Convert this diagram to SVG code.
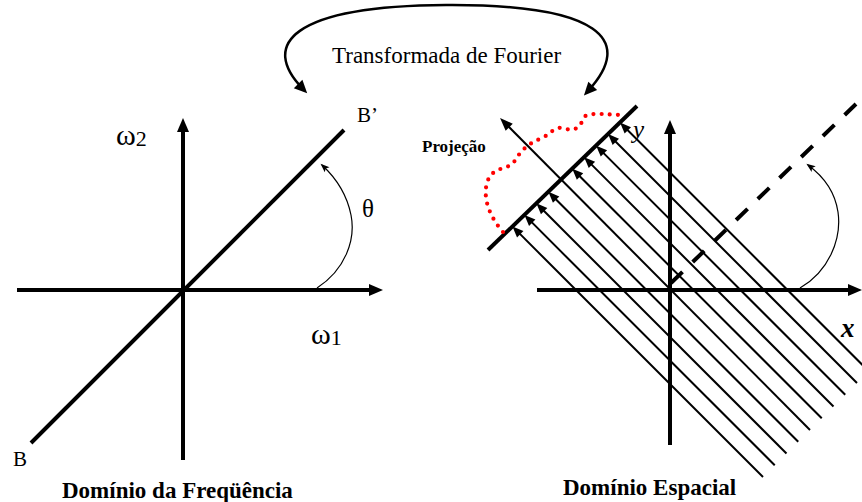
<svg xmlns="http://www.w3.org/2000/svg" width="862" height="502" viewBox="0 0 862 502">
<style>
.ax{stroke:#000;stroke-width:4;fill:none}
.th{stroke:#000;stroke-width:2;fill:none}
.fn{stroke:#000;stroke-width:1.2;fill:none}
.t{font-family:"Liberation Serif","Times New Roman",serif;fill:#000}
.b{font-weight:bold}
.i{font-style:italic}
</style>
<defs>
<marker id="axh" viewBox="-16 -7 18 14" refX="-10" refY="0" markerWidth="18" markerHeight="14" markerUnits="userSpaceOnUse" orient="auto"><path d="M0,0 L-14,-6 L-14,6 z" fill="#000"/></marker>
<marker id="hh" viewBox="-13 -6 14 12" refX="-7" refY="0" markerWidth="14" markerHeight="12" markerUnits="userSpaceOnUse" orient="auto"><path d="M0,0 L-11,-4.5 L-11,4.5 z" fill="#000"/></marker>
<marker id="yh" viewBox="-14 -6 15 12" refX="-9" refY="0" markerWidth="15" markerHeight="12" markerUnits="userSpaceOnUse" orient="auto"><path d="M0,0 L-13,-5 L-13,5 z" fill="#000"/></marker>
<marker id="sh" viewBox="-10 -5 11 10" refX="-2" refY="0" markerWidth="11" markerHeight="10" markerUnits="userSpaceOnUse" orient="auto"><path d="M0,0 L-9,-3.5 L-7,0 L-9,3.5 z" fill="#000"/></marker>
<marker id="th" viewBox="-15 -7 16 14" refX="-6" refY="0" markerWidth="16" markerHeight="14" markerUnits="userSpaceOnUse" orient="auto-start-reverse"><path d="M0,0 L-13,-6 L-13,6 z" fill="#000"/></marker>
</defs>

<g id="connectors">
<path id="fourier-arc" d="M303,89 C260,45 290,6 446,5 C600,4 635,40 588,91" stroke="#000" stroke-width="2.5" fill="none" marker-start="url(#th)" marker-end="url(#th)"/>
</g>

<g id="freq-domain">
<line class="ax" x1="17" y1="290" x2="373" y2="290" marker-end="url(#axh)"/>
<line class="ax" x1="183" y1="460" x2="183" y2="128" marker-end="url(#axh)"/>
<line class="ax" x1="31" y1="443" x2="344" y2="130"/>
<path class="fn" d="M317,288 C345,270 356,240 351,215 C347,195 336,178 322,165" marker-end="url(#sh)"/>
</g>

<g id="spatial-domain">
<line class="ax" x1="537" y1="290" x2="852" y2="290" marker-end="url(#axh)"/>
<line class="ax" x1="670" y1="445" x2="670" y2="130" marker-end="url(#axh)"/>
<g id="rays">
<line class="th" x1="763" y1="477" x2="517.4" y2="231.4" marker-end="url(#hh)"/>
<line class="th" x1="774.75" y1="465.25" x2="529.4" y2="219.9" marker-end="url(#hh)"/>
<line class="th" x1="786.5" y1="453.5" x2="541.3" y2="208.3" marker-end="url(#hh)"/>
<line class="th" x1="798.25" y1="441.75" x2="553.3" y2="196.8" marker-end="url(#hh)"/>
<line class="th" x1="821.75" y1="418.25" x2="577.2" y2="173.7" marker-end="url(#hh)"/>
<line class="th" x1="833.5" y1="406.5" x2="589.1" y2="162.1" marker-end="url(#hh)"/>
<line class="th" x1="845.25" y1="394.75" x2="601.1" y2="150.6" marker-end="url(#hh)"/>
<line class="th" x1="857" y1="383" x2="613" y2="139" marker-end="url(#hh)"/>
<line class="th" x1="868.75" y1="371.25" x2="625" y2="127.5" marker-end="url(#hh)"/>
</g>
<line id="y-axis" class="th" x1="810" y1="430" x2="506.4" y2="124.4" marker-end="url(#yh)"/>
<line id="projection-line" class="ax" x1="488" y1="250" x2="637" y2="106"/>
<line id="theta-dir" x1="671" y1="283" x2="856" y2="104" stroke="#000" stroke-width="4" stroke-dasharray="16 14.2"/>
<path class="fn" d="M800,288 C828,272 842,240 838,212 C835,192 823,176 808,165" marker-end="url(#sh)"/>
<path id="projection-curve" d="M503,232 C488,215 482,195 488,180 C494,166 508,170 514,162 C520,152 527,144 540,139 C550,135 554,126 564,128 C572,132 580,129 583,119 C585,112 600,114 621,115" stroke="#ff0000" stroke-width="4.2" stroke-linecap="round" stroke-dasharray="0 8.2" fill="none"/>
</g>

<g id="labels">
<text class="t" x="332" y="63" font-size="23">Transformada de Fourier</text>
<text class="t" x="357" y="122" font-size="21">B’</text>
<text class="t" x="13" y="466" font-size="21">B</text>
<text class="t" x="116" y="145" font-size="30">ω<tspan font-size="22" dy="1">2</tspan></text>
<text class="t" x="311" y="344" font-size="30">ω<tspan font-size="22" dy="1">1</tspan></text>
<text class="t" x="362" y="217" font-size="25">θ</text>
<text class="t b" x="422" y="152" font-size="17">Projeção</text>
<text class="t i" x="633" y="138" font-size="25">y</text>
<text class="t i b" x="841" y="337" font-size="27">x</text>
<text class="t b" x="62" y="498" font-size="23">Domínio da Freqüência</text>
<text class="t b" x="563" y="495" font-size="23">Domínio Espacial</text>
</g>
</svg>
